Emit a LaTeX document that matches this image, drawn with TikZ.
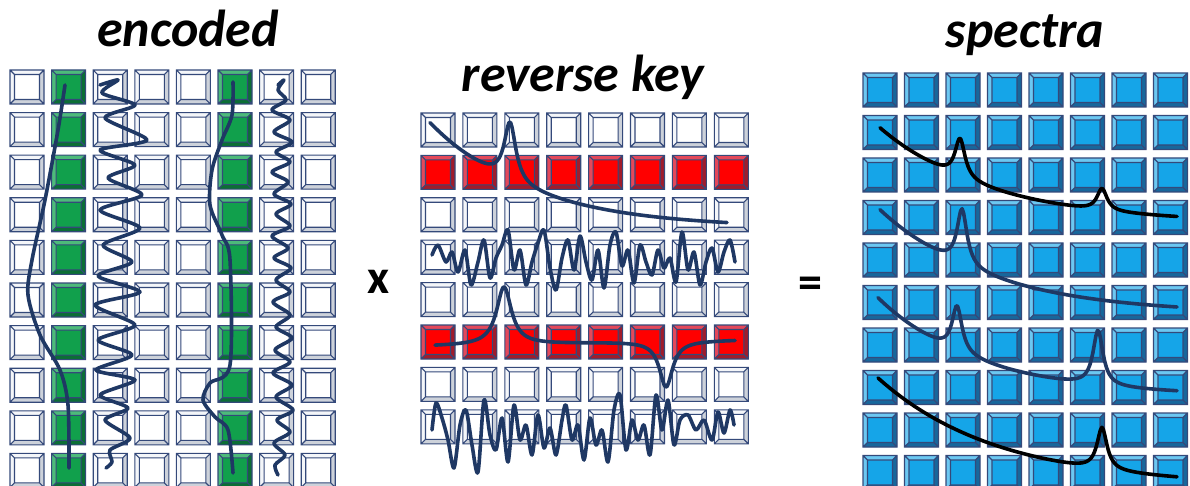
\documentclass[tikz,border=0pt]{standalone}
\usepackage{fontspec}
\setmainfont{Carlito}
\usepackage{tikz}
\definecolor{navy}{HTML}{1F3864}
\definecolor{rim}{HTML}{34497A}
\definecolor{encgreen}{HTML}{11A04C}
\definecolor{encgreenlt}{HTML}{4DBB7A}
\definecolor{encgreendk}{HTML}{0B6E35}
\definecolor{keyred}{HTML}{FF0000}
\definecolor{keyredlt}{HTML}{E4485A}
\definecolor{keyreddk}{HTML}{A01C2C}
\definecolor{specblue}{HTML}{15A5E8}
\definecolor{specbluelt}{HTML}{6CC8F2}
\definecolor{specbluedk}{HTML}{17679C}
\definecolor{greylt}{HTML}{F4F6F9}
\definecolor{greydk}{HTML}{CDD2DA}
\tikzset{
  pics/cell/.style args={#1/#2/#3}{code={
    \fill[#1] (0,0) rectangle (34,34);
    \fill[#2] (0,0) -- (34,0) -- (29.5,4.5) -- (4.5,4.5) -- (4.5,29.5) -- (0,34) -- cycle;
    \fill[#3] (34,34) -- (0,34) -- (4.5,29.5) -- (29.5,29.5) -- (29.5,4.5) -- (34,0) -- cycle;
    \draw[rim,line width=1.1pt] (0,0) rectangle (34,34) (4.5,4.5) rectangle (29.5,29.5)
      (0,0)--(4.5,4.5) (34,0)--(29.5,4.5) (0,34)--(4.5,29.5) (34,34)--(29.5,29.5);
  }},
  trace/.style={navy,line width=3.6pt,line cap=round,line join=round},
  title/.style={font=\bfseries\itshape\fontsize{52}{60}\selectfont,anchor=base},
  sign/.style={font=\bfseries\fontsize{48}{56}\selectfont}
}

\begin{document}
\begin{tikzpicture}[x=1pt,y=-1pt]
\useasboundingbox (0,0) rectangle (1190,486);

% titles
\node[title] (encoded) at (188,47) {encoded};
\node[title] (key) at (583,92) {reverse key};
\node[title] (spectra) at (1025,48) {spectra};
\node[sign] (times) at (379,282) {x};
\node[sign] (equals) at (810,288) {=};

% encoded grid
\foreach \i in {0,2,3,4,6,7}
\foreach \j in {0,...,9}
\pic at ({10+41.6*\i},{70+42.6*\j}) {cell=white/greylt/greydk};
\foreach \i in {1,5}
\foreach \j in {0,...,9}
\pic at ({10+41.6*\i},{70+42.6*\j}) {cell=encgreen/encgreenlt/encgreendk};

% reverse key grid
\foreach \j in {0,2,3,4,6,7}
\foreach \i in {0,...,7}
\pic at ({421+41.9*\i},{113+42.4*\j}) {cell=white/greylt/greydk};
\foreach \j in {1,5}
\foreach \i in {0,...,7}
\pic at ({421+41.9*\i},{113+42.4*\j}) {cell=keyred/keyredlt/keyreddk};

% spectra grid
\foreach \i in {0,...,7}
\foreach \j in {0,...,9}
\pic at ({863+41.5*\i},{73+42.5*\j}) {cell=specblue/specbluelt/specbluedk};

% encoded traces
\draw[trace] plot[smooth] coordinates {(65,85) (58,130) (45,200) (32,260) (28,295) (40,335) (60,370) (68,405) (69,468)};
\draw[trace] plot[smooth] coordinates {(233,82) (232,115) (222,140) (212,170) (210,205) (222,235) (230,260) (230,365) (210,383) (203,400) (215,417) (228,430) (233,473)};
\draw[trace] plot[smooth,tension=0.45] coordinates {(100,85) (118,80) (102,93) (135,105) (105,118) (147,140) (100,150) (135,165) (108,178) (142,195) (100,210) (140,228) (103,245) (132,262) (98,276) (140,292) (95,305) (135,325) (98,340) (132,355) (96,370) (135,380) (100,395) (128,408) (105,420) (130,438) (110,450) (112,462) (106,468)};
\draw[trace] plot[smooth,tension=0.5] coordinates {(278,85) (284,80) (278,90) (286,100) (272,110) (290,120) (274,132) (292,142) (276,152) (290,162) (272,172) (288,182) (274,194) (291,204) (276,214) (290,226) (272,236) (288,248) (274,258) (291,268) (276,280) (290,292) (273,302) (290,315) (276,327) (292,338) (275,350) (290,362) (273,373) (292,385) (276,397) (293,410) (277,420) (290,432) (274,443) (285,455) (275,465) (278,475)};

% reverse key traces
\draw[trace] plot[domain=430:727,samples=200] (\x,{228-105*exp(-(\x-430)/100)-59/(1+((\x-510)/7)^2)});
\draw[trace] plot[smooth,tension=0.5] coordinates {(432,255) (438,245) (446,262) (452,252) (458,272) (465,250) (471,285) (478,262) (484,240) (490,278) (496,258) (502,245) (508,230) (514,270) (520,250) (526,285) (532,262) (538,243) (544,230) (550,268) (556,290) (562,258) (568,240) (574,270) (580,236) (586,262) (592,280) (598,250) (604,288) (610,245) (616,232) (622,266) (628,250) (634,283) (640,245) (646,262) (652,275) (658,250) (664,268) (670,258) (676,282) (682,232) (688,270) (694,252) (700,285) (706,262) (712,248) (718,272) (724,252) (730,240) (735,262)};
\draw[trace] plot[domain=435:735,samples=200] (\x,{346-0.02*(\x-435)-58/(1+((\x-504)/9)^2)+46/(1+((\x-666)/8)^2)});
\draw[trace] plot[smooth,tension=0.5] coordinates {(432,430) (436,403) (442,418) (448,440) (454,468) (460,425) (466,410) (472,445) (478,472) (484,400) (490,435) (496,450) (502,418) (508,462) (514,405) (520,440) (526,425) (532,455) (538,415) (544,448) (550,428) (556,455) (562,420) (566,405) (572,440) (578,425) (584,460) (590,418) (596,445) (602,430) (608,462) (614,410) (620,395) (626,450) (632,420) (638,440) (644,425) (650,455) (656,395) (662,430) (668,400) (674,445) (680,420) (688,415) (696,430) (704,420) (712,440) (718,412) (724,433) (730,410) (734,425)};

% spectra traces
\draw[trace,black] plot[domain=880:1177,samples=200] (\x,{223-95*exp(-(\x-880)/110)-39/(1+((\x-960)/6)^2)-22/(1+((\x-1102)/6)^2)});
\draw[trace] plot[domain=880:1177,samples=200] (\x,{314-104*exp(-(\x-880)/110)-56/(1+((\x-962)/6)^2)});
\draw[trace] plot[domain=878:1177,samples=200] (\x,{396-98*exp(-(\x-878)/100)-46/(1+((\x-957)/6)^2)-55/(1+((\x-1098)/6)^2)});
\draw[trace,black] plot[domain=878:1177,samples=200] (\x,{486-108*exp(-(\x-878)/120)-42/(1+((\x-1102)/6)^2)});
\end{tikzpicture}
\end{document}
